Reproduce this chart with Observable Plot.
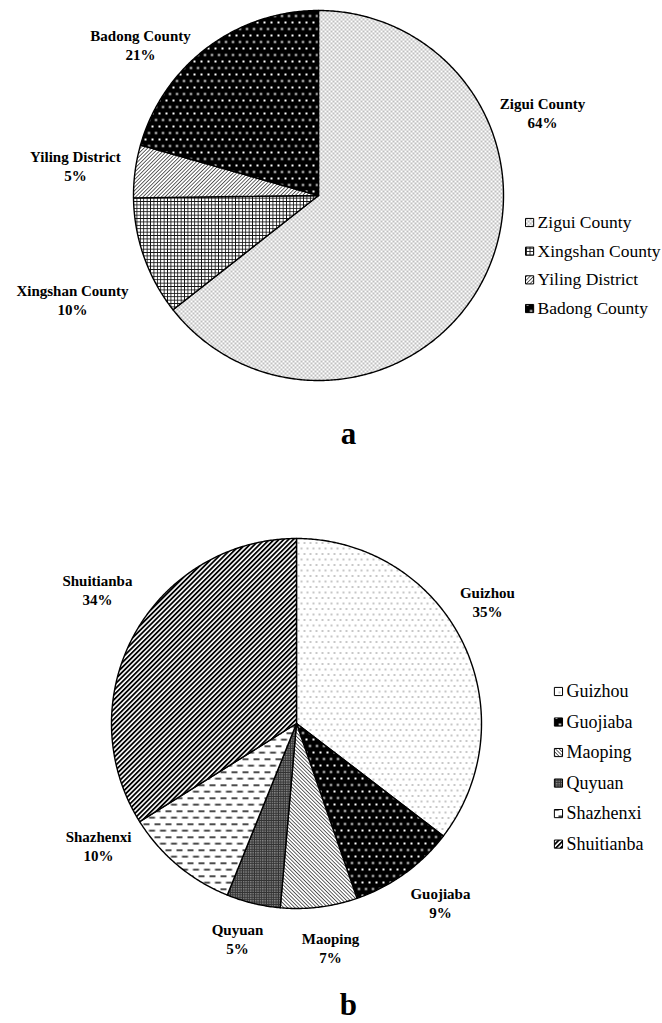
<!DOCTYPE html>
<html><head><meta charset="utf-8">
<script src="https://cdn.jsdelivr.net/npm/d3@7"></script>
<script src="https://cdn.jsdelivr.net/npm/@observablehq/plot@0.6"></script>
<style>
body{margin:0;background:#fff;}
#root{width:662px;height:1023px;position:relative;background:#fff;}
#root svg{display:block;}
</style></head><body>
<svg width="0" height="0" style="position:absolute">
<defs>
<pattern id="pZigui" width="4" height="4" patternUnits="userSpaceOnUse"><rect width="4" height="4" fill="#fff"/><rect x="0.5" y="0.5" width="1" height="1" fill="#000"/><rect x="2.5" y="2.5" width="1" height="1" fill="#000"/></pattern>
<pattern id="pXingshan" width="3.4" height="3.4" patternUnits="userSpaceOnUse"><rect width="3.4" height="3.4" fill="#fff"/><path d="M0 0.4H3.4M0.4 0V3.4" stroke="#111" stroke-width="0.9"/></pattern>
<pattern id="pYiling" width="2.6" height="2.6" patternUnits="userSpaceOnUse" patternTransform="rotate(45)"><rect width="2.6" height="2.6" fill="#fff"/><line x1="0.4" y1="0" x2="0.4" y2="2.6" stroke="#333" stroke-width="0.8"/></pattern>
<pattern id="pBadong" width="7" height="13" patternUnits="userSpaceOnUse"><rect width="7" height="13" fill="#000"/><rect x="0.5" y="1.5" width="2" height="2" fill="#fff"/><rect x="4" y="8" width="2" height="2" fill="#fff"/></pattern>
<pattern id="pGuizhou" width="6" height="11" patternUnits="userSpaceOnUse"><rect width="6" height="11" fill="#fff"/><rect x="0.5" y="0.5" width="1" height="1" fill="#222"/><rect x="3.5" y="6" width="1" height="1" fill="#222"/></pattern>
<pattern id="pGuojiaba" width="7" height="13" patternUnits="userSpaceOnUse"><rect width="7" height="13" fill="#000"/><rect x="0.5" y="1.5" width="2" height="2" fill="#fff"/><rect x="4" y="8" width="2" height="2" fill="#fff"/></pattern>
<pattern id="pMaoping" width="2.6" height="2.6" patternUnits="userSpaceOnUse" patternTransform="rotate(-45)"><rect width="2.6" height="2.6" fill="#fff"/><line x1="0.4" y1="0" x2="0.4" y2="2.6" stroke="#333" stroke-width="0.8"/></pattern>
<pattern id="pQuyuan" width="2.4" height="2.4" patternUnits="userSpaceOnUse"><rect width="2.4" height="2.4" fill="#333"/><rect x="0.3" y="0.3" width="0.9" height="0.9" fill="#fff"/></pattern>
<pattern id="pShazhenxi" width="11" height="13" patternUnits="userSpaceOnUse"><rect width="11" height="13" fill="#fff"/><rect x="0" y="2" width="6" height="1.4" fill="#000"/><rect x="5.5" y="8.5" width="6" height="1.4" fill="#000"/><rect x="-5.5" y="8.5" width="6" height="1.4" fill="#000"/></pattern>
<pattern id="pShuitianba" width="3.4" height="3.4" patternUnits="userSpaceOnUse" patternTransform="rotate(45)"><rect width="3.4" height="3.4" fill="#fff"/><line x1="0.9" y1="0" x2="0.9" y2="3.4" stroke="#000" stroke-width="1.8"/></pattern>
</defs>
</svg>
<div id="root"></div>
<script>
// ---- data ----
const countiesA = ["Zigui County", "Xingshan County", "Yiling District", "Badong County"];
const sharesA = [64.4, 10.4, 4.6, 20.6];
const patternsA = ["url(#pZigui)", "url(#pXingshan)", "url(#pYiling)", "url(#pBadong)"];

const townsB = ["Guizhou", "Guojiaba", "Maoping", "Quyuan", "Shazhenxi", "Shuitianba"];
const sharesB = [35.4, 9.3, 6.7, 4.7, 10.0, 33.9];
const patternsB = ["url(#pGuizhou)", "url(#pGuojiaba)", "url(#pMaoping)", "url(#pQuyuan)", "url(#pShazhenxi)", "url(#pShuitianba)"];

const captions = ["a", "b"];

// ---- layout (in pie-radius units) ----
const W = 662;
const labelPosA = [[1.211, 0.449], [-1.330, -0.562], [-1.314, 0.162], [-0.962, 0.816]];
const labelPosB = [[1.032, 0.659], [0.778, -0.968], [0.184, -1.211], [-0.319, -1.162], [-1.070, -0.659], [-1.076, 0.724]];
const FONT = "'Liberation Serif','Times New Roman',serif";

function slices(values) {
  const arcs = d3.pie().sort(null).value(d => d)(values);
  return arcs.map(a => {
    const n = Math.max(2, Math.ceil((a.endAngle - a.startAngle) / (Math.PI / 360)));
    const pts = [{x: 0, y: 0}];
    for (let k = 0; k <= n; k++) {
      const t = a.startAngle + (a.endAngle - a.startAngle) * k / n;
      pts.push({x: Math.sin(t), y: Math.cos(t)});
    }
    return pts;
  });
}

function pie(cfg) {
  const {names, values, patterns, cx, cy, r, height, labelPos, legendX, legendY, legendStep, legendFont, caption, captionX, captionY} = cfg;
  const total = d3.sum(values);
  const polys = slices(values);
  const labels = names.map((n, i) => ({x: labelPos[i][0], y: labelPos[i][1], text: `${n}\n${Math.round(values[i] / total * 100)}%`}));
  const legend = names.map((n, i) => ({x: legendX, y: legendY - i * legendStep, name: n, fill: patterns[i]}));
  return Plot.plot({
    width: W, height, margin: 0,
    style: {fontFamily: FONT, background: "#fff", color: "#000"},
    x: {domain: [-cx / r, (W - cx) / r], axis: null},
    y: {domain: [(cy - height) / r, cy / r], axis: null},
    marks: [
      ...polys.map((p, i) => Plot.line(p, {x: "x", y: "y", fill: patterns[i], stroke: "#000", strokeWidth: 1.4, curve: "linear-closed", strokeLinejoin: "round"})),
      Plot.text(labels, {x: "x", y: "y", text: "text", fontWeight: "bold", fontSize: 15, lineHeight: 1.27, fill: "#000", fontFamily: FONT}),
      ...legend.map(l => Plot.dot([l], {x: "x", y: "y", symbol: "square", r: 4.6, fill: l.fill, stroke: "#000", strokeWidth: 1})),
      Plot.text(legend, {x: "x", y: "y", text: "name", textAnchor: "start", dx: 8, fontSize: legendFont, fill: "#000", fontFamily: FONT}),
      Plot.text([{x: captionX, y: captionY, t: caption}], {x: "x", y: "y", text: "t", fontSize: 31, fontWeight: "bold", fill: "#000", fontFamily: FONT})
    ]
  });
}

const root = document.getElementById("root");
root.append(pie({
  names: countiesA, values: sharesA, patterns: patternsA,
  cx: 318, cy: 195, r: 185, height: 470, labelPos: labelPosA,
  legendX: 1.141, legendY: -0.146, legendStep: 0.155, legendFont: 17.5,
  caption: captions[0], captionX: 0.162, captionY: -1.292
}));
root.append(pie({
  names: townsB, values: sharesB, patterns: patternsB,
  cx: 296, cy: 253, r: 185, height: 553, labelPos: labelPosB,
  legendX: 1.416, legendY: 0.173, legendStep: 0.165, legendFont: 18,
  caption: captions[1], captionX: 0.281, captionY: -1.524
}));
</script>
</body></html>
